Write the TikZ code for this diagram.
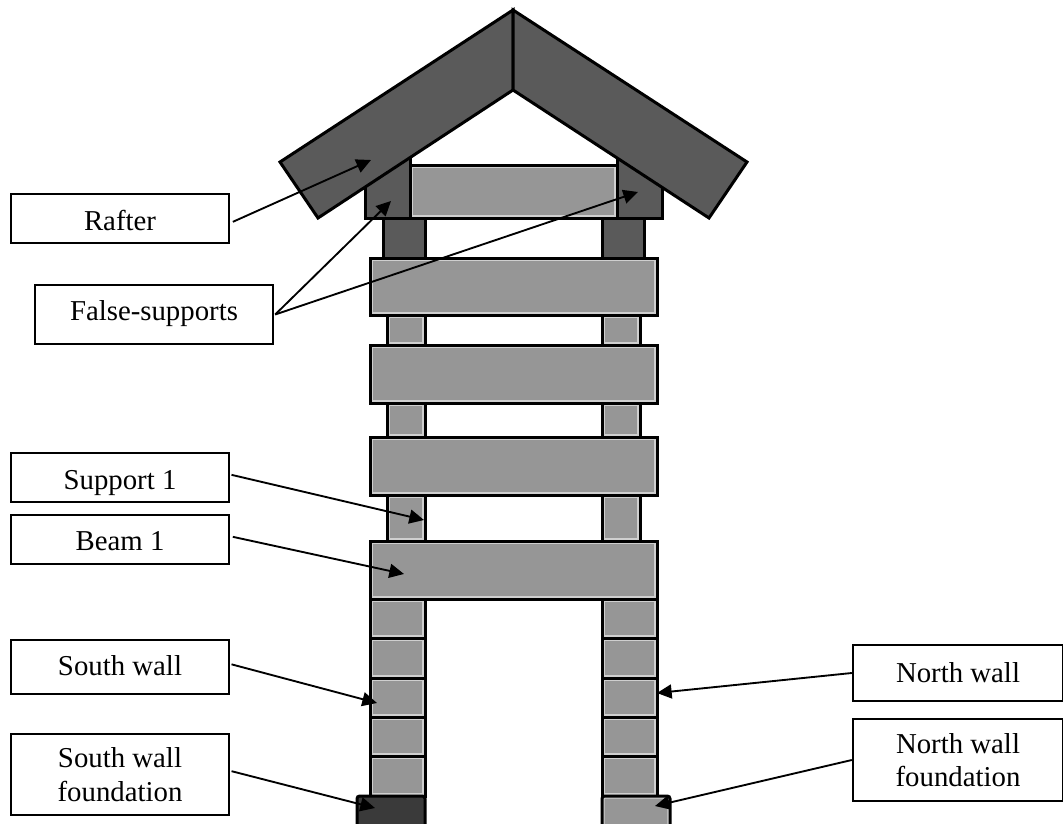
\documentclass[tikz,border=0pt]{standalone}
\usepackage{fontspec}
\setmainfont{Liberation Serif}
\usetikzlibrary{arrows.meta,fit}
\definecolor{lightblock}{HTML}{969696}
\definecolor{lightedge}{HTML}{CFCFCF}
\definecolor{darkblock}{HTML}{5A5A5A}
\definecolor{footblock}{HTML}{3A3A3A}
\tikzstyle{block}=[rectangle,draw=black,line width=2.25pt,inner sep=0pt,fill=lightblock,
path picture={\draw[lightedge,line width=4pt] (path picture bounding box.south west) rectangle (path picture bounding box.north east);}]
\tikzstyle{dblock}=[rectangle,draw=black,line width=2.25pt,inner sep=0pt,fill=darkblock]
\tikzstyle{fblock}=[rectangle,draw=black,line width=2.25pt,inner sep=0pt,fill=footblock,rounded corners=2pt]
\tikzstyle{rafter}=[draw=black,line width=2.25pt,fill=darkblock,line join=miter]
\tikzstyle{tag}=[rectangle,draw=black,line width=1.3pt,fill=white,align=center,
font=\fontsize{21.6}{25}\selectfont,minimum width=164pt,inner sep=0pt]
\tikzstyle{base}=[text depth=0pt,text height=#1]
\tikzstyle{callout}=[-{Triangle[length=11pt,width=10.5pt]},line width=1.4pt]

\begin{document}
\begin{tikzpicture}[x=0.75pt,y=-0.75pt]
            \useasboundingbox (0,0) rectangle (1063,824);

            % POSTS

            \node[dblock,fit={(383,218) (425,258)}] (d1) {};
            \node[dblock,fit={(602,218) (644,258)}] (d2) {};
            \node[block,fit={(387,315) (425,345)}] (s5) {};
            \node[block,fit={(602,315) (640,345)}] (s6) {};
            \node[block,fit={(387,403) (425,437)}] (s3) {};
            \node[block,fit={(602,403) (640,437)}] (s4) {};
            \node[block,fit={(387,495) (425,541)}] (s1) {};
            \node[block,fit={(602,495) (640,541)}] (s2) {};

            % BEAMS

            \node[block,fit={(370,258) (657,315)}] (b4) {};
            \node[block,fit={(370,345) (657,403)}] (b3) {};
            \node[block,fit={(370,437) (657,495)}] (b2) {};
            \node[block,fit={(370,541) (657,599)}] (b1) {};

            % WALLS

            \foreach \top/\bot/\n in {599/638/1,638/678/2,678/717/3,717/756/4,756/796/5} {
              \node[block,fit={(370,\top) (425,\bot)}] (sw\n) {};
              \node[block,fit={(602,\top) (657,\bot)}] (nw\n) {};
            }
            \node[fblock,fit={(357,796) (425,830)}] (sf) {};
            \node[block,rounded corners=2pt,fit={(602,796) (670,830)}] (nf) {};

            % ROOF

            \node[block,fit={(410,165) (617,218)}] (b5) {};
            \node[dblock,fit={(365,150) (410,218)}] (f1) {};
            \node[dblock,fit={(617,150) (662,218)}] (f2) {};
            \path[rafter] (513,10) -- (280,162) -- (318,218) -- (513,90) -- cycle;
            \path[rafter] (513,10) -- (747,162) -- (709,218) -- (513,90) -- cycle;

            % LABELS

            \node[tag,base=17.25pt,minimum height=37pt] at (120,218.5) (l1) {Rafter};
            \node[tag,base=8.25pt,minimum height=44pt,minimum width=178.5pt] at (154,314.5) (l2) {False-supports};
            \node[tag,base=17.25pt,minimum height=36.5pt] at (120,477.5) (l3) {Support 1};
            \node[tag,base=15.75pt,minimum height=36.5pt] at (120,539.5) (l4) {Beam 1};
            \node[tag,base=12pt,minimum height=40.5pt] at (120,667) (l5) {South wall};
            \node[tag,minimum height=61pt] at (120,774.5) (l6) {South wall\\foundation};
            \node[tag,base=13.5pt,minimum height=42pt,minimum width=158pt] at (958,673) (l7) {North wall};
            \node[tag,minimum height=61.5pt,minimum width=158pt] at (958,760) (l8) {North wall\\foundation};

            % Targets of the arrows

            \coordinate (a1) at (371,160);
            \coordinate (a2) at (391,201);
            \coordinate (a3) at (638,192);
            \coordinate (a4) at (424,520);
            \coordinate (a5) at (404,574);
            \coordinate (a6) at (377,703);
            \coordinate (a7) at (375,808);
            \coordinate (a8) at (657,693);
            \coordinate (a9) at (655,806);

            \path[callout] ([xshift=2pt,yshift=-2.5pt]l1.east) edge node {} (a1);
            \path[callout] ([xshift=1pt]l2.east) edge node {} (a2);
            \path[callout] ([xshift=1pt]l2.east) edge node {} (a3);
            \path[callout] ([xshift=1pt,yshift=2pt]l3.east) edge node {} (a4);
            \path[callout] ([xshift=2pt,yshift=2pt]l4.east) edge node {} (a5);
            \path[callout] ([xshift=1pt,yshift=2pt]l5.east) edge node {} (a6);
            \path[callout] ([xshift=1pt,yshift=2.5pt]l6.east) edge node {} (a7);
            \path[callout] (l7.west) edge node {} (a8);
            \path[callout] (l8.west) edge node {} (a9);

        \end{tikzpicture}
\end{document}
